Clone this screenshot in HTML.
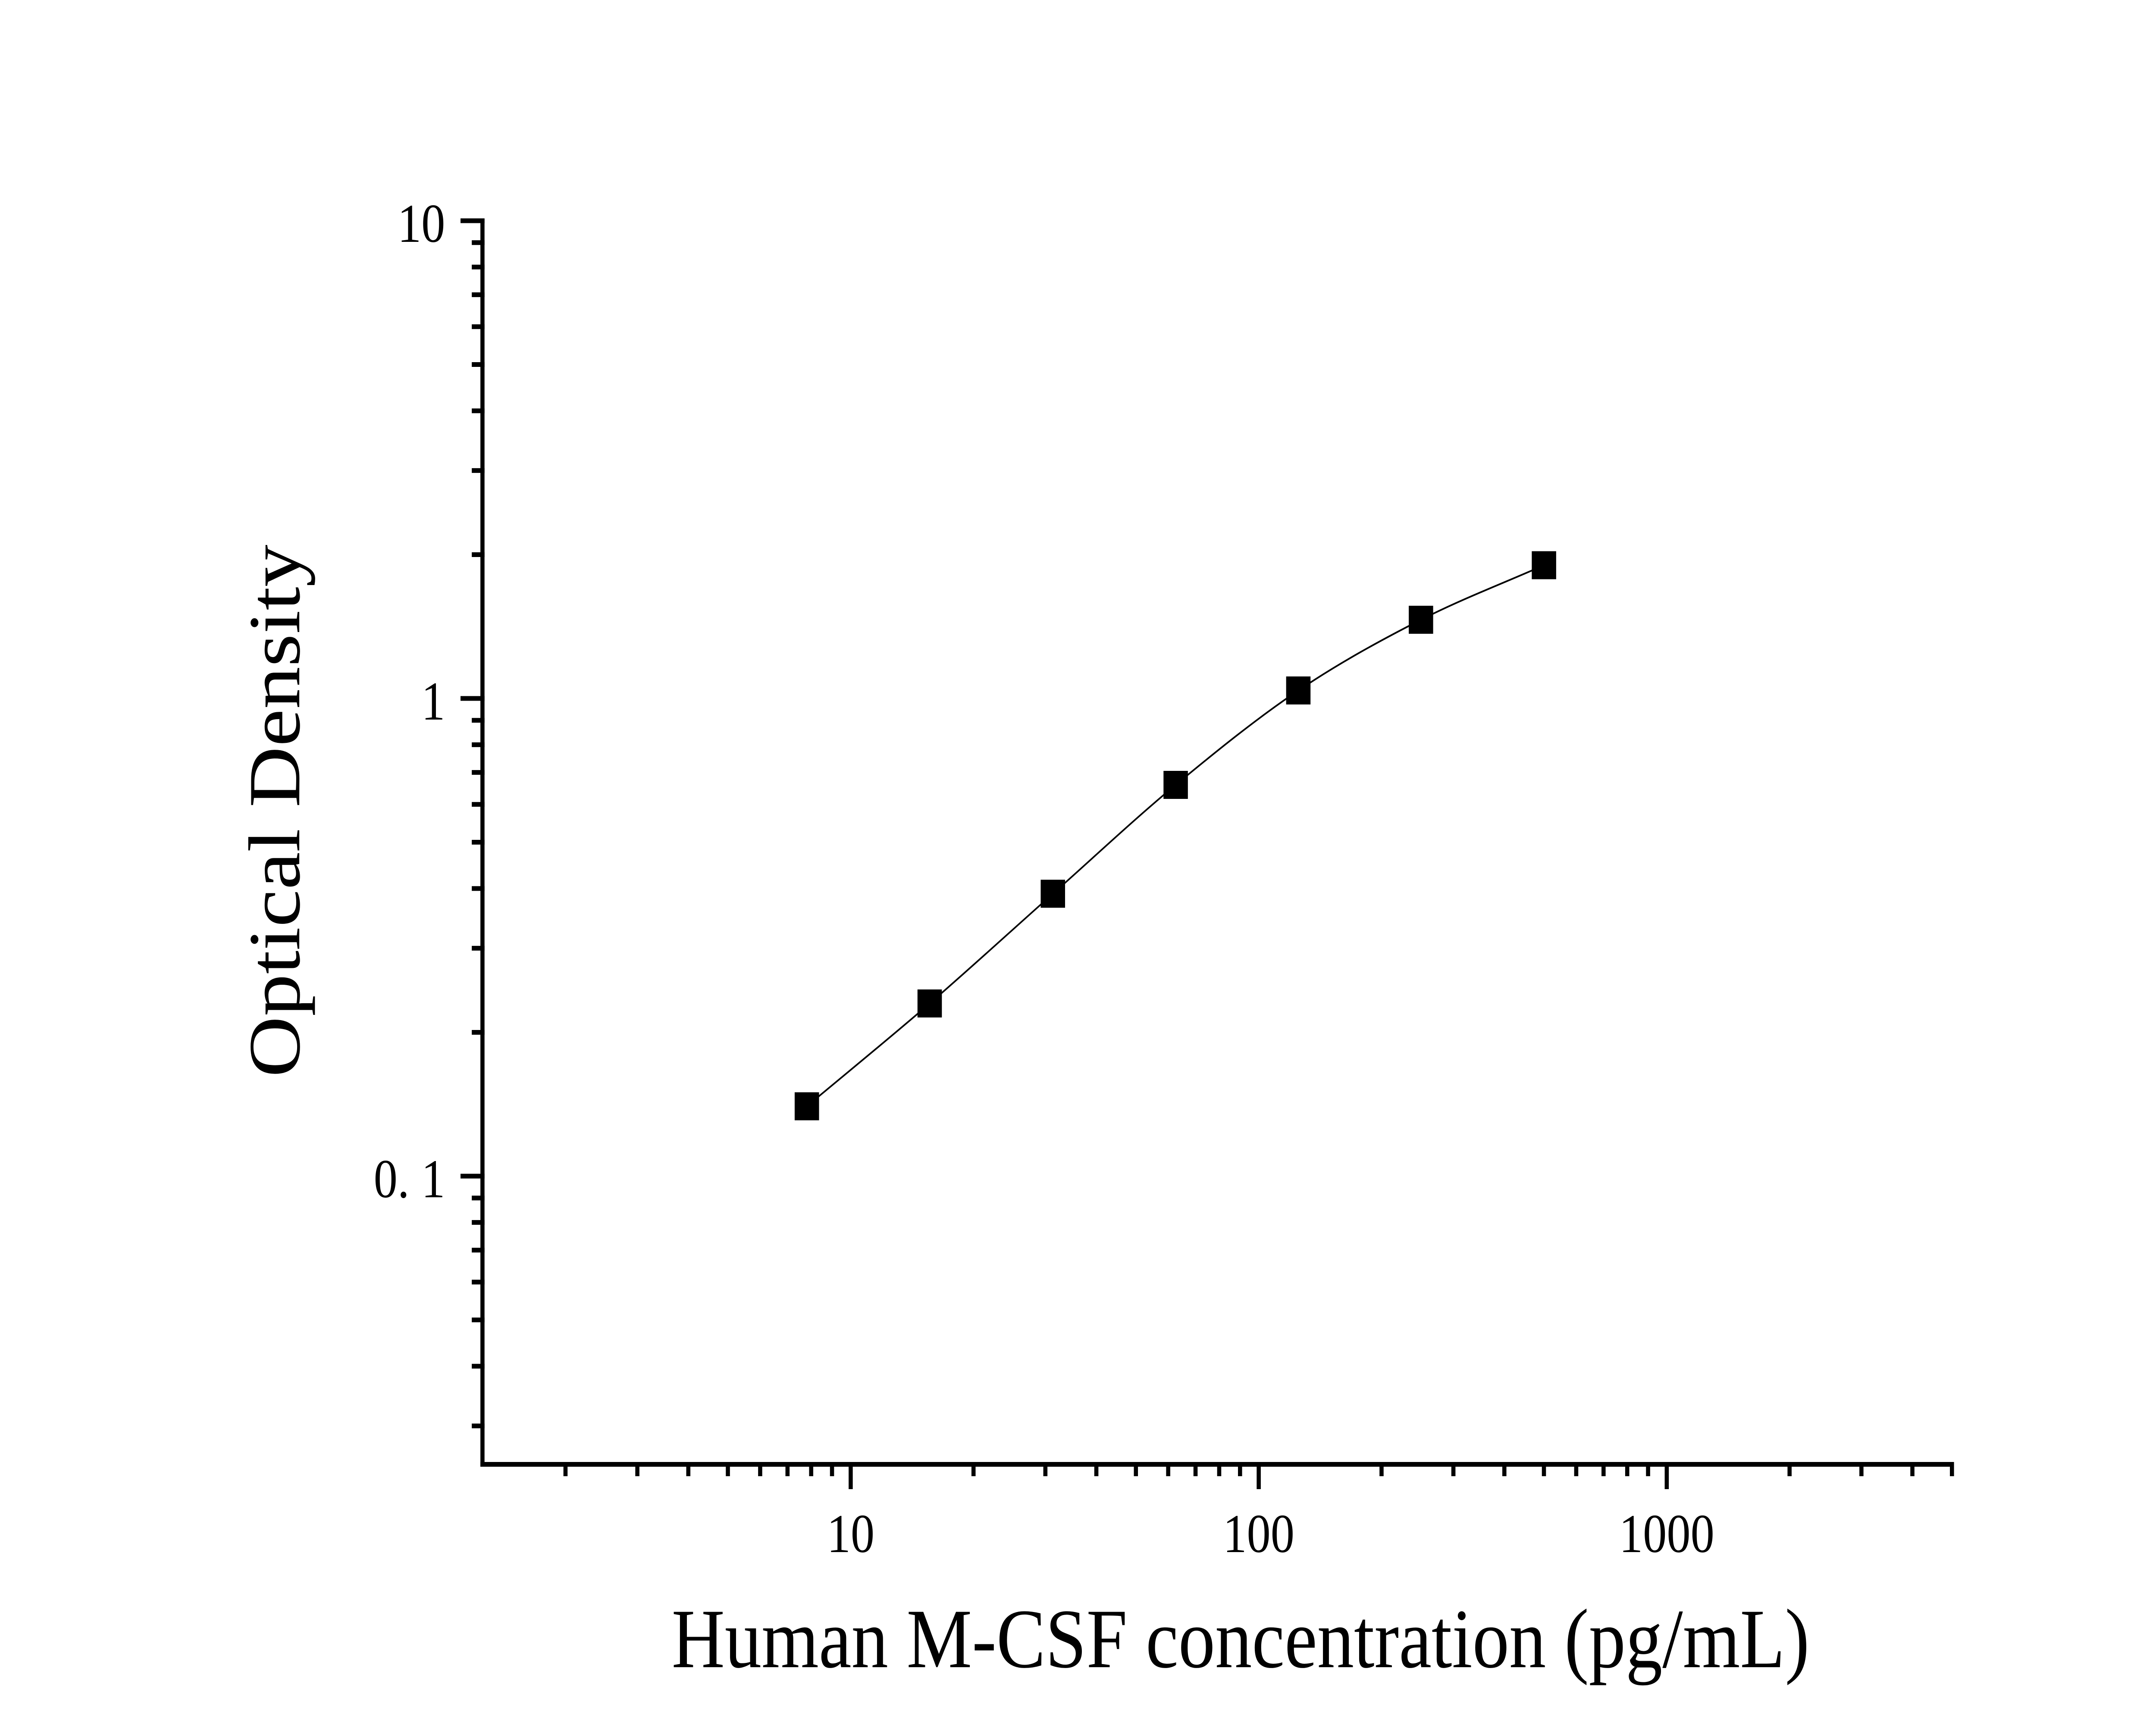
<!DOCTYPE html>
<html>
<head>
<meta charset="utf-8">
<style>
  html, body { margin: 0; padding: 0; background: #ffffff; width: 100%; height: 100%; overflow: hidden; }
  svg { display: block; position: fixed; left: 0; top: 0; width: 100vw; height: 100vh; }
  text { font-family: "Liberation Serif", "Times New Roman", serif; fill: #000; }
</style>
</head>
<body>
<svg xmlns="http://www.w3.org/2000/svg" viewBox="0 0 5749 4015" preserveAspectRatio="none">
  <rect x="0" y="0" width="5749" height="4015" fill="#ffffff"/>

  <!-- Axes -->
  <rect x="1281" y="507" width="11" height="2895" fill="#000"/>
  <rect x="1281" y="3391" width="3929" height="11" fill="#000"/>

  <!-- Y ticks -->
  <g stroke="#000" stroke-width="11" stroke-linecap="butt">
    <line x1="1228" y1="512" x2="1292" y2="512"/>
    <line x1="1228" y1="1620" x2="1292" y2="1620"/>
    <line x1="1228" y1="2728" x2="1292" y2="2728"/>
    <line x1="1258" y1="1286.5" x2="1292" y2="1286.5"/>
    <line x1="1258" y1="1091.4" x2="1292" y2="1091.4"/>
    <line x1="1258" y1="952.9" x2="1292" y2="952.9"/>
    <line x1="1258" y1="845.5" x2="1292" y2="845.5"/>
    <line x1="1258" y1="757.8" x2="1292" y2="757.8"/>
    <line x1="1258" y1="683.6" x2="1292" y2="683.6"/>
    <line x1="1258" y1="619.4" x2="1292" y2="619.4"/>
    <line x1="1258" y1="562.7" x2="1292" y2="562.7"/>
    <line x1="1258" y1="2394.5" x2="1292" y2="2394.5"/>
    <line x1="1258" y1="2199.4" x2="1292" y2="2199.4"/>
    <line x1="1258" y1="2060.9" x2="1292" y2="2060.9"/>
    <line x1="1258" y1="1953.5" x2="1292" y2="1953.5"/>
    <line x1="1258" y1="1865.8" x2="1292" y2="1865.8"/>
    <line x1="1258" y1="1791.6" x2="1292" y2="1791.6"/>
    <line x1="1258" y1="1727.4" x2="1292" y2="1727.4"/>
    <line x1="1258" y1="1670.7" x2="1292" y2="1670.7"/>
    <line x1="1258" y1="3307.4" x2="1292" y2="3307.4"/>
    <line x1="1258" y1="3168.9" x2="1292" y2="3168.9"/>
    <line x1="1258" y1="3061.5" x2="1292" y2="3061.5"/>
    <line x1="1258" y1="2973.8" x2="1292" y2="2973.8"/>
    <line x1="1258" y1="2899.6" x2="1292" y2="2899.6"/>
    <line x1="1258" y1="2835.4" x2="1292" y2="2835.4"/>
    <line x1="1258" y1="2778.7" x2="1292" y2="2778.7"/>
  </g>

  <!-- X ticks -->
  <g stroke="#000" stroke-width="11" stroke-linecap="butt">
    <line x1="2268.4" y1="3391" x2="2268.4" y2="3454"/>
    <line x1="3356.4" y1="3391" x2="3356.4" y2="3454"/>
    <line x1="4444.4" y1="3391" x2="4444.4" y2="3454"/>
    <line x1="1507.9" y1="3391" x2="1507.9" y2="3424"/>
    <line x1="1699.5" y1="3391" x2="1699.5" y2="3424"/>
    <line x1="1835.4" y1="3391" x2="1835.4" y2="3424"/>
    <line x1="1940.9" y1="3391" x2="1940.9" y2="3424"/>
    <line x1="2027.0" y1="3391" x2="2027.0" y2="3424"/>
    <line x1="2099.9" y1="3391" x2="2099.9" y2="3424"/>
    <line x1="2163.0" y1="3391" x2="2163.0" y2="3424"/>
    <line x1="2218.6" y1="3391" x2="2218.6" y2="3424"/>
    <line x1="2595.9" y1="3391" x2="2595.9" y2="3424"/>
    <line x1="2787.5" y1="3391" x2="2787.5" y2="3424"/>
    <line x1="2923.4" y1="3391" x2="2923.4" y2="3424"/>
    <line x1="3028.9" y1="3391" x2="3028.9" y2="3424"/>
    <line x1="3115.0" y1="3391" x2="3115.0" y2="3424"/>
    <line x1="3187.9" y1="3391" x2="3187.9" y2="3424"/>
    <line x1="3251.0" y1="3391" x2="3251.0" y2="3424"/>
    <line x1="3306.6" y1="3391" x2="3306.6" y2="3424"/>
    <line x1="3683.9" y1="3391" x2="3683.9" y2="3424"/>
    <line x1="3875.5" y1="3391" x2="3875.5" y2="3424"/>
    <line x1="4011.4" y1="3391" x2="4011.4" y2="3424"/>
    <line x1="4116.9" y1="3391" x2="4116.9" y2="3424"/>
    <line x1="4203.0" y1="3391" x2="4203.0" y2="3424"/>
    <line x1="4275.9" y1="3391" x2="4275.9" y2="3424"/>
    <line x1="4339.0" y1="3391" x2="4339.0" y2="3424"/>
    <line x1="4394.6" y1="3391" x2="4394.6" y2="3424"/>
    <line x1="4771.9" y1="3391" x2="4771.9" y2="3424"/>
    <line x1="4963.5" y1="3391" x2="4963.5" y2="3424"/>
    <line x1="5099.4" y1="3391" x2="5099.4" y2="3424"/>
    <line x1="5204.9" y1="3391" x2="5204.9" y2="3424"/>
  </g>

  <!-- Y tick labels -->
  <g font-size="127" text-anchor="end">
    <text x="1187" y="561">10</text>
    <text x="1187" y="1669">1</text>
    <text x="1187" y="2777" xml:space="preserve">0. 1</text>
  </g>

  <!-- X tick labels -->
  <g font-size="127" text-anchor="middle">
    <text x="2268.4" y="3600">10</text>
    <text x="3356.4" y="3600">100</text>
    <text x="4444.4" y="3600">1000</text>
  </g>

  <!-- Axis titles -->
  <text x="1791" y="3867" font-size="196" textLength="3034" lengthAdjust="spacingAndGlyphs">Human M-CSF concentration (pg/mL)</text>
  <text transform="translate(798,1881) rotate(-90)" font-size="196" text-anchor="middle">Optical Density</text>

  <!-- Fitted curve -->
  <path d="M 2151.5 2566
           C 2260.7 2486.5, 2369.7 2409.7, 2479 2327.5
           C 2588.3 2245.3, 2698.2 2157.5, 2807.5 2073
           C 2916.8 1988.5, 3025.9 1899.1, 3135 1820.5
           C 3244.1 1741.9, 3353 1665.3, 3462 1601.5
           C 3571 1537.7, 3679.8 1485.9, 3789 1437.5
           C 3898.2 1389.1, 4007.7 1353.2, 4117 1311"
        fill="none" stroke="#000" stroke-width="4"/>

  <!-- Markers -->
  <g fill="#000">
    <rect x="2119" y="2533.5" width="65" height="65"/>
    <rect x="2446.5" y="2295" width="65" height="65"/>
    <rect x="2775" y="2040.5" width="65" height="65"/>
    <rect x="3102.5" y="1788" width="65" height="65"/>
    <rect x="3429.5" y="1569" width="65" height="65"/>
    <rect x="3756.5" y="1405" width="65" height="65"/>
    <rect x="4084.5" y="1278.5" width="65" height="65"/>
  </g>
</svg>
</body>
</html>
